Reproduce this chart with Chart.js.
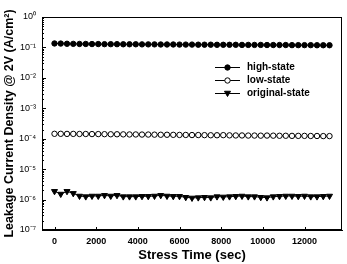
<!DOCTYPE html>
<html><head><meta charset="utf-8">
<script src="https://cdn.jsdelivr.net/npm/chart.js@4"></script>
<style>html,body{margin:0;padding:0;background:#fff}#wrap{width:347px;height:264px}</style>
</head><body><div id="wrap"><canvas id="c" width="347" height="264"></canvas></div>
<script>
const stressTime = [0,300,600,900,1200,1500,1800,2100,2400,2700,3000,3300,3600,3900,4200,4500,4800,5100,5400,5700,6000,6300,6600,6900,7200,7500,7800,8100,8400,8700,9000,9300,9600,9900,10200,10500,10800,11100,11400,11700,12000,12300,12600,12900,13200];
const highState = [0.135,0.134,0.132,0.131,0.130,0.130,0.129,0.129,0.128,0.128,0.128,0.127,0.127,0.127,0.126,0.126,0.126,0.125,0.125,0.125,0.124,0.124,0.124,0.123,0.123,0.123,0.122,0.122,0.122,0.122,0.121,0.121,0.121,0.121,0.120,0.120,0.120,0.120,0.119,0.119,0.119,0.119,0.118,0.118,0.118];
const lowState = [1.45e-4,1.45e-4,1.44e-4,1.44e-4,1.43e-4,1.43e-4,1.42e-4,1.42e-4,1.41e-4,1.40e-4,1.40e-4,1.39e-4,1.38e-4,1.38e-4,1.37e-4,1.37e-4,1.36e-4,1.35e-4,1.35e-4,1.34e-4,1.33e-4,1.33e-4,1.32e-4,1.32e-4,1.31e-4,1.30e-4,1.30e-4,1.31e-4,1.29e-4,1.28e-4,1.28e-4,1.27e-4,1.27e-4,1.26e-4,1.27e-4,1.26e-4,1.25e-4,1.25e-4,1.24e-4,1.24e-4,1.24e-4,1.23e-4,1.23e-4,1.22e-4,1.22e-4];
const originalState = [1.87e-6,1.52e-6,1.87e-6,1.60e-6,1.31e-6,1.25e-6,1.31e-6,1.31e-6,1.38e-6,1.31e-6,1.38e-6,1.25e-6,1.25e-6,1.25e-6,1.28e-6,1.28e-6,1.31e-6,1.38e-6,1.31e-6,1.28e-6,1.28e-6,1.19e-6,1.13e-6,1.16e-6,1.19e-6,1.16e-6,1.25e-6,1.22e-6,1.25e-6,1.28e-6,1.31e-6,1.25e-6,1.25e-6,1.19e-6,1.16e-6,1.25e-6,1.28e-6,1.31e-6,1.31e-6,1.28e-6,1.31e-6,1.25e-6,1.25e-6,1.28e-6,1.31e-6];
const seriesNames = ['high-state','low-state','original-state'];
const xTicks = [0,2000,4000,6000,8000,10000,12000];
const xTickLabels = ['0','2000','4000','6000','8000','10000','12000'];
const yTicks = [1e-7,1e-6,1e-5,1e-4,1e-3,1e-2,1e-1,1];
const yTickLabels = ['10⁻⁷','10⁻⁶','10⁻⁵','10⁻⁴','10⁻³','10⁻²','10⁻¹','10⁰'];
const xTitle = 'Stress Time (sec)';
const yTitle = 'Leakage Current Density @ 2V (A/cm²)';

const toPts = arr => arr.map((v,i)=>({x:stressTime[i], y:v}));
const FONT = "'Liberation Sans', Arial, sans-serif";

const datasets = [
  {label:seriesNames[0], data:toPts(highState), borderColor:'#000', borderWidth:1, pointStyle:'circle', pointRadius:2.7, pointBackgroundColor:'#000', pointBorderColor:'#000', pointBorderWidth:1},
  {label:seriesNames[1], data:toPts(lowState), borderColor:'#000', borderWidth:1, pointStyle:'circle', pointRadius:2.7, pointBackgroundColor:'#fff', pointBorderColor:'#000', pointBorderWidth:1},
  {label:seriesNames[2], data:toPts(originalState), borderColor:'#000', borderWidth:1, pointStyle:'triangle', pointRotation:180, pointRadius:3.5, pointBackgroundColor:'#000', pointBorderColor:'#000', pointBorderWidth:1}
];

const decor = {
  id:'decor',
  afterDraw(chart){
    const ctx = chart.ctx, a = chart.chartArea;
    const xs = chart.scales.x, ys = chart.scales.y;
    ctx.save();
    ctx.strokeStyle = '#000'; ctx.lineWidth = 1;
    ctx.strokeRect(Math.round(a.left)+0.5, Math.round(a.top)+0.5, Math.round(a.right-a.left)-1, Math.round(a.bottom-a.top)-1);
    ctx.beginPath();
    xTicks.forEach(v=>{ const px = Math.round(xs.getPixelForValue(v))+0.5; ctx.moveTo(px, a.bottom); ctx.lineTo(px, a.bottom-3); });
    yTicks.forEach((v,i)=>{
      const py = Math.round(ys.getPixelForValue(v))+0.5;
      ctx.moveTo(a.left, py); ctx.lineTo(a.left+4, py);
      if (i < yTicks.length-1) {
        for (let m=2;m<=9;m++){ const q = Math.round(ys.getPixelForValue(v*m))+0.5; ctx.moveTo(a.left,q); ctx.lineTo(a.left+2,q); }
      }
    });
    ctx.stroke();
    // legend
    const lx0 = a.left+173, lx1 = a.left+198, tx = a.left+205;
    chart.data.datasets.forEach((ds,i)=>{
      const y = a.top + 50 + i*13;
      ctx.beginPath(); ctx.moveTo(lx0, y+0.5); ctx.lineTo(lx1, y+0.5); ctx.stroke();
      const cx = (lx0+lx1)/2;
      ctx.fillStyle = ds.pointBackgroundColor; ctx.beginPath();
      if (ds.pointStyle === 'triangle') {
        const r = ds.pointRadius;
        ctx.moveTo(cx, y+r); ctx.lineTo(cx-r*0.866, y-r*0.5); ctx.lineTo(cx+r*0.866, y-r*0.5); ctx.closePath();
      } else {
        ctx.arc(cx, y+0.5, ds.pointRadius, 0, Math.PI*2);
      }
      ctx.fill(); ctx.stroke();
      ctx.fillStyle = '#000'; ctx.font = 'bold 10px '+FONT; ctx.textBaseline='middle'; ctx.textAlign='left';
      ctx.fillText(ds.label, tx, y+0.5);
    });
    ctx.restore();
  }
};

new Chart(document.getElementById('c'), {
  type:'line',
  data:{datasets},
  options:{
    responsive:false, animation:false, devicePixelRatio:1,
    layout:{padding:{top:17,right:2,left:0,bottom:0}},
    plugins:{legend:{display:false}, tooltip:{enabled:false}},
    scales:{
      x:{type:'linear', min:-600, max:13800,
        afterBuildTicks: s => { s.ticks = xTicks.map(v=>({value:v})); },
        afterFit: s => { s.height = 34; },
        grid:{display:false, drawTicks:false},
        border:{display:true, color:'#000', width:1},
        ticks:{font:{family:FONT, size:9, weight:'bold'}, color:'#000', padding:6, maxRotation:0, autoSkip:false,
          callback:(v,i)=>xTickLabels[i]},
        title:{display:true, text:xTitle, color:'#000', font:{family:FONT, size:13, weight:'bold'}, padding:{top:0,bottom:1}}
      },
      y:{type:'logarithmic', min:1e-7, max:1,
        afterBuildTicks: s => { s.ticks = yTicks.map(v=>({value:v})); },
        afterFit: s => { s.width = 42; },
        grid:{display:false, drawTicks:false},
        border:{display:true, color:'#000', width:1},
        ticks:{font:{family:FONT, size:9}, color:'#000', padding:6, autoSkip:false,
          callback:(v,i)=>yTickLabels[i]},
        title:{display:true, text:yTitle, color:'#000', font:{family:FONT, size:12.5, weight:'bold'}, padding:{top:2,bottom:0}}
      }
    }
  },
  plugins:[decor]
});
</script></body></html>
